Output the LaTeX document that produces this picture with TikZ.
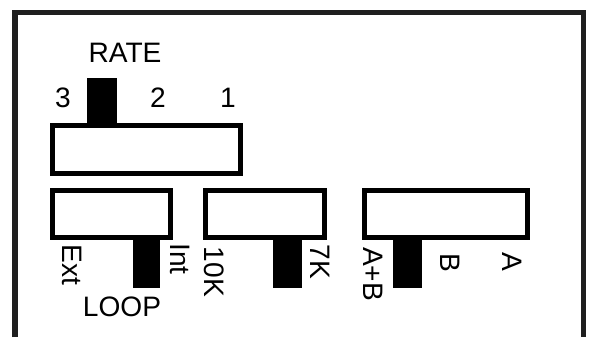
\documentclass[tikz,border=0pt]{standalone}
\usepackage{fontspec}
\setmainfont{Liberation Sans}
\tikzset{slot/.style = {draw, line width = 0.05cm, inner sep = 0, minimum height = 0.47cm}}
\tikzset{knob/.style = {fill, inner sep = 0, minimum width = 0.29cm}}
\tikzset{lbl/.style = {inner sep = 0, font = \fontsize{8}{9.6}\selectfont}}
\tikzset{vlbl/.style = {lbl, rotate = -90}}

\begin{document}
\begin{tikzpicture}
      \useasboundingbox (0, 0) rectangle (5.9, 3.37);
      \draw [line width = 0.05cm, black!88] (0.15, 0) -- (0.15, 3.245) -- (5.835, 3.245) -- (5.835, 0);
      % rate switch
      \node [slot, minimum width = 1.88cm, minimum height = 0.475cm] (rate) at (1.465, 1.8775) {};
      \node [knob, anchor = south, minimum width = 0.3cm, minimum height = 0.47cm] (rateknob) at (1.02, 2.115) {};
      \node [lbl] (ratelbl) at (1.25, 2.84) {RATE};
      \node [lbl] (three) at (0.63, 2.39) {3};
      \node [lbl] (two) at (1.58, 2.39) {2};
      \node [lbl] (one) at (2.28, 2.39) {1};
      % lower switches
      \node [slot, minimum width = 1.18cm] (loopsw) at (1.115, 1.23) {};
      \node [slot, minimum width = 1.19cm] (rsw) at (2.65, 1.23) {};
      \node [slot, minimum width = 1.63cm] (chsw) at (4.46, 1.23) {};
      \node [knob, anchor = north, minimum width = 0.27cm, minimum height = 0.5cm] (loopknob) at (1.465, 0.995) {};
      \node [knob, anchor = north, minimum height = 0.5cm] (rknob) at (2.875, 0.995) {};
      \node [knob, anchor = north, minimum height = 0.5cm] (chknob) at (4.075, 0.995) {};
      \node [vlbl] (ext) at (0.72, 0.72) {Ext};
      \node [vlbl] (int) at (1.80, 0.78) {Int};
      \node [lbl] (loop) at (1.22, 0.30) {LOOP};
      \node [vlbl] (tenk) at (2.14, 0.65) {10K};
      \node [vlbl] (sevenk) at (3.20, 0.75) {7K};
      \node [vlbl] (apb) at (3.73, 0.63) {A+B};
      \node [vlbl] (bsel) at (4.50, 0.74) {B};
      \node [vlbl] (asel) at (5.12, 0.75) {A};
    \end{tikzpicture}
\end{document}
